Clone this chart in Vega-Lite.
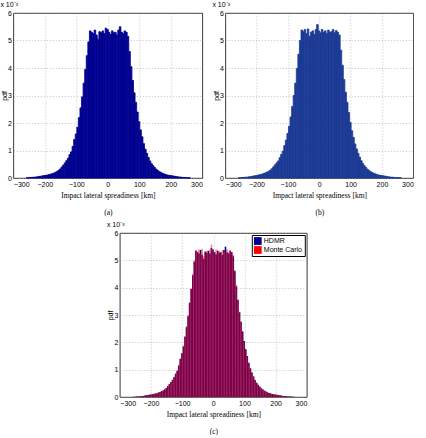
{
  "$schema": "https://vega.github.io/schema/vega-lite/v6.json",
  "padding": 0,
  "background": "white",
  "config": {
    "view": {"stroke": "#000000", "strokeWidth": 0.8},
    "axis": {
      "labelFont": "Liberation Sans", "labelFontSize": 7, "labelColor": "#000000",
      "titleFont": "Liberation Serif", "titleFontSize": 7.5, "titleFontWeight": "normal", "titleColor": "#000000",
      "ticks": false, "domain": false, "labelPadding": 2,
      "grid": true, "gridColor": "#9a9a9a", "gridDash": [1, 2], "gridWidth": 0.6, "gridOpacity": 1
    },
    "axisY": {"titleFont": "Liberation Sans", "titleFontSize": 7, "titlePadding": 0},
    "axisX": {"titlePadding": 4, "titleLineHeight": 17},
    "title": {"font": "Liberation Sans", "fontSize": 7, "fontWeight": "normal", "anchor": "start", "offset": 1, "color": "#000000"}
  },
  "datasets": {
    "d": [
      {"km": -260, "series": "HDMR", "pdf": 0.01}, {"km": -255, "series": "HDMR", "pdf": 0.01}, {"km": -250, "series": "HDMR", "pdf": 0.02}, {"km": -245, "series": "HDMR", "pdf": 0.02},
      {"km": -240, "series": "HDMR", "pdf": 0.03}, {"km": -235, "series": "HDMR", "pdf": 0.03}, {"km": -230, "series": "HDMR", "pdf": 0.04}, {"km": -225, "series": "HDMR", "pdf": 0.05},
      {"km": -220, "series": "HDMR", "pdf": 0.06}, {"km": -215, "series": "HDMR", "pdf": 0.07}, {"km": -210, "series": "HDMR", "pdf": 0.08}, {"km": -205, "series": "HDMR", "pdf": 0.09},
      {"km": -200, "series": "HDMR", "pdf": 0.10}, {"km": -195, "series": "HDMR", "pdf": 0.11}, {"km": -190, "series": "HDMR", "pdf": 0.13}, {"km": -185, "series": "HDMR", "pdf": 0.14},
      {"km": -180, "series": "HDMR", "pdf": 0.16}, {"km": -175, "series": "HDMR", "pdf": 0.18}, {"km": -170, "series": "HDMR", "pdf": 0.21}, {"km": -165, "series": "HDMR", "pdf": 0.24},
      {"km": -160, "series": "HDMR", "pdf": 0.28}, {"km": -155, "series": "HDMR", "pdf": 0.33}, {"km": -150, "series": "HDMR", "pdf": 0.40}, {"km": -145, "series": "HDMR", "pdf": 0.47},
      {"km": -140, "series": "HDMR", "pdf": 0.55}, {"km": -135, "series": "HDMR", "pdf": 0.63}, {"km": -130, "series": "HDMR", "pdf": 0.72}, {"km": -125, "series": "HDMR", "pdf": 0.85},
      {"km": -120, "series": "HDMR", "pdf": 0.95}, {"km": -115, "series": "HDMR", "pdf": 1.15}, {"km": -110, "series": "HDMR", "pdf": 1.40}, {"km": -105, "series": "HDMR", "pdf": 1.60},
      {"km": -100, "series": "HDMR", "pdf": 1.85}, {"km": -95, "series": "HDMR", "pdf": 2.20}, {"km": -90, "series": "HDMR", "pdf": 2.55}, {"km": -85, "series": "HDMR", "pdf": 2.95},
      {"km": -80, "series": "HDMR", "pdf": 3.45}, {"km": -75, "series": "HDMR", "pdf": 3.95}, {"km": -70, "series": "HDMR", "pdf": 4.45}, {"km": -65, "series": "HDMR", "pdf": 4.95},
      {"km": -60, "series": "HDMR", "pdf": 5.35}, {"km": -55, "series": "HDMR", "pdf": 5.30}, {"km": -50, "series": "HDMR", "pdf": 5.25}, {"km": -45, "series": "HDMR", "pdf": 5.38},
      {"km": -40, "series": "HDMR", "pdf": 5.20}, {"km": -35, "series": "HDMR", "pdf": 5.05}, {"km": -30, "series": "HDMR", "pdf": 5.32}, {"km": -25, "series": "HDMR", "pdf": 5.28},
      {"km": -20, "series": "HDMR", "pdf": 5.35}, {"km": -15, "series": "HDMR", "pdf": 5.25}, {"km": -10, "series": "HDMR", "pdf": 5.45}, {"km": -5, "series": "HDMR", "pdf": 5.40},
      {"km": 0, "series": "HDMR", "pdf": 5.30}, {"km": 5, "series": "HDMR", "pdf": 5.22}, {"km": 10, "series": "HDMR", "pdf": 5.35}, {"km": 15, "series": "HDMR", "pdf": 5.28},
      {"km": 20, "series": "HDMR", "pdf": 5.30}, {"km": 25, "series": "HDMR", "pdf": 5.20}, {"km": 30, "series": "HDMR", "pdf": 5.38}, {"km": 35, "series": "HDMR", "pdf": 5.50},
      {"km": 40, "series": "HDMR", "pdf": 5.30}, {"km": 45, "series": "HDMR", "pdf": 5.25}, {"km": 50, "series": "HDMR", "pdf": 5.35}, {"km": 55, "series": "HDMR", "pdf": 5.30},
      {"km": 60, "series": "HDMR", "pdf": 5.15}, {"km": 65, "series": "HDMR", "pdf": 4.60}, {"km": 70, "series": "HDMR", "pdf": 4.05}, {"km": 75, "series": "HDMR", "pdf": 3.55},
      {"km": 80, "series": "HDMR", "pdf": 3.10}, {"km": 85, "series": "HDMR", "pdf": 2.75}, {"km": 90, "series": "HDMR", "pdf": 2.40}, {"km": 95, "series": "HDMR", "pdf": 2.05},
      {"km": 100, "series": "HDMR", "pdf": 1.75}, {"km": 105, "series": "HDMR", "pdf": 1.50}, {"km": 110, "series": "HDMR", "pdf": 1.25}, {"km": 115, "series": "HDMR", "pdf": 1.05},
      {"km": 120, "series": "HDMR", "pdf": 0.90}, {"km": 125, "series": "HDMR", "pdf": 0.75}, {"km": 130, "series": "HDMR", "pdf": 0.62}, {"km": 135, "series": "HDMR", "pdf": 0.52},
      {"km": 140, "series": "HDMR", "pdf": 0.45}, {"km": 145, "series": "HDMR", "pdf": 0.38}, {"km": 150, "series": "HDMR", "pdf": 0.32}, {"km": 155, "series": "HDMR", "pdf": 0.27},
      {"km": 160, "series": "HDMR", "pdf": 0.23}, {"km": 165, "series": "HDMR", "pdf": 0.20}, {"km": 170, "series": "HDMR", "pdf": 0.17}, {"km": 175, "series": "HDMR", "pdf": 0.15},
      {"km": 180, "series": "HDMR", "pdf": 0.13}, {"km": 185, "series": "HDMR", "pdf": 0.11}, {"km": 190, "series": "HDMR", "pdf": 0.10}, {"km": 195, "series": "HDMR", "pdf": 0.09},
      {"km": 200, "series": "HDMR", "pdf": 0.08}, {"km": 205, "series": "HDMR", "pdf": 0.07}, {"km": 210, "series": "HDMR", "pdf": 0.06}, {"km": 215, "series": "HDMR", "pdf": 0.05},
      {"km": 220, "series": "HDMR", "pdf": 0.04}, {"km": 225, "series": "HDMR", "pdf": 0.035}, {"km": 230, "series": "HDMR", "pdf": 0.03}, {"km": 235, "series": "HDMR", "pdf": 0.02},
      {"km": 240, "series": "HDMR", "pdf": 0.02}, {"km": 245, "series": "HDMR", "pdf": 0.015}, {"km": 250, "series": "HDMR", "pdf": 0.01}, {"km": 255, "series": "HDMR", "pdf": 0.01},

      {"km": -260, "series": "Monte Carlo", "pdf": 0.01}, {"km": -255, "series": "Monte Carlo", "pdf": 0.01}, {"km": -250, "series": "Monte Carlo", "pdf": 0.02}, {"km": -245, "series": "Monte Carlo", "pdf": 0.02},
      {"km": -240, "series": "Monte Carlo", "pdf": 0.03}, {"km": -235, "series": "Monte Carlo", "pdf": 0.03}, {"km": -230, "series": "Monte Carlo", "pdf": 0.04}, {"km": -225, "series": "Monte Carlo", "pdf": 0.05},
      {"km": -220, "series": "Monte Carlo", "pdf": 0.06}, {"km": -215, "series": "Monte Carlo", "pdf": 0.07}, {"km": -210, "series": "Monte Carlo", "pdf": 0.08}, {"km": -205, "series": "Monte Carlo", "pdf": 0.09},
      {"km": -200, "series": "Monte Carlo", "pdf": 0.10}, {"km": -195, "series": "Monte Carlo", "pdf": 0.12}, {"km": -190, "series": "Monte Carlo", "pdf": 0.13}, {"km": -185, "series": "Monte Carlo", "pdf": 0.15},
      {"km": -180, "series": "Monte Carlo", "pdf": 0.17}, {"km": -175, "series": "Monte Carlo", "pdf": 0.19}, {"km": -170, "series": "Monte Carlo", "pdf": 0.22}, {"km": -165, "series": "Monte Carlo", "pdf": 0.25},
      {"km": -160, "series": "Monte Carlo", "pdf": 0.29}, {"km": -155, "series": "Monte Carlo", "pdf": 0.34}, {"km": -150, "series": "Monte Carlo", "pdf": 0.41}, {"km": -145, "series": "Monte Carlo", "pdf": 0.48},
      {"km": -140, "series": "Monte Carlo", "pdf": 0.55}, {"km": -135, "series": "Monte Carlo", "pdf": 0.62}, {"km": -130, "series": "Monte Carlo", "pdf": 0.74}, {"km": -125, "series": "Monte Carlo", "pdf": 0.86},
      {"km": -120, "series": "Monte Carlo", "pdf": 0.98}, {"km": -115, "series": "Monte Carlo", "pdf": 1.18}, {"km": -110, "series": "Monte Carlo", "pdf": 1.38}, {"km": -105, "series": "Monte Carlo", "pdf": 1.62},
      {"km": -100, "series": "Monte Carlo", "pdf": 1.88}, {"km": -95, "series": "Monte Carlo", "pdf": 2.22}, {"km": -90, "series": "Monte Carlo", "pdf": 2.60}, {"km": -85, "series": "Monte Carlo", "pdf": 3.00},
      {"km": -80, "series": "Monte Carlo", "pdf": 3.45}, {"km": -75, "series": "Monte Carlo", "pdf": 3.98}, {"km": -70, "series": "Monte Carlo", "pdf": 4.50}, {"km": -65, "series": "Monte Carlo", "pdf": 5.00},
      {"km": -60, "series": "Monte Carlo", "pdf": 5.38}, {"km": -55, "series": "Monte Carlo", "pdf": 5.32}, {"km": -50, "series": "Monte Carlo", "pdf": 5.40}, {"km": -45, "series": "Monte Carlo", "pdf": 5.25},
      {"km": -40, "series": "Monte Carlo", "pdf": 5.42}, {"km": -35, "series": "Monte Carlo", "pdf": 5.15}, {"km": -30, "series": "Monte Carlo", "pdf": 5.30}, {"km": -25, "series": "Monte Carlo", "pdf": 5.35},
      {"km": -20, "series": "Monte Carlo", "pdf": 5.22}, {"km": -15, "series": "Monte Carlo", "pdf": 5.40}, {"km": -10, "series": "Monte Carlo", "pdf": 5.58}, {"km": -5, "series": "Monte Carlo", "pdf": 5.35},
      {"km": 0, "series": "Monte Carlo", "pdf": 5.28}, {"km": 5, "series": "Monte Carlo", "pdf": 5.40}, {"km": 10, "series": "Monte Carlo", "pdf": 5.30}, {"km": 15, "series": "Monte Carlo", "pdf": 5.35},
      {"km": 20, "series": "Monte Carlo", "pdf": 5.25}, {"km": 25, "series": "Monte Carlo", "pdf": 5.38}, {"km": 30, "series": "Monte Carlo", "pdf": 5.30}, {"km": 35, "series": "Monte Carlo", "pdf": 5.32},
      {"km": 40, "series": "Monte Carlo", "pdf": 5.40}, {"km": 45, "series": "Monte Carlo", "pdf": 5.28}, {"km": 50, "series": "Monte Carlo", "pdf": 5.36}, {"km": 55, "series": "Monte Carlo", "pdf": 5.30},
      {"km": 60, "series": "Monte Carlo", "pdf": 5.20}, {"km": 65, "series": "Monte Carlo", "pdf": 4.65}, {"km": 70, "series": "Monte Carlo", "pdf": 4.10}, {"km": 75, "series": "Monte Carlo", "pdf": 3.58},
      {"km": 80, "series": "Monte Carlo", "pdf": 3.12}, {"km": 85, "series": "Monte Carlo", "pdf": 2.75}, {"km": 90, "series": "Monte Carlo", "pdf": 2.38}, {"km": 95, "series": "Monte Carlo", "pdf": 2.02},
      {"km": 100, "series": "Monte Carlo", "pdf": 1.72}, {"km": 105, "series": "Monte Carlo", "pdf": 1.48}, {"km": 110, "series": "Monte Carlo", "pdf": 1.24}, {"km": 115, "series": "Monte Carlo", "pdf": 1.06},
      {"km": 120, "series": "Monte Carlo", "pdf": 0.90}, {"km": 125, "series": "Monte Carlo", "pdf": 0.76}, {"km": 130, "series": "Monte Carlo", "pdf": 0.63}, {"km": 135, "series": "Monte Carlo", "pdf": 0.53},
      {"km": 140, "series": "Monte Carlo", "pdf": 0.45}, {"km": 145, "series": "Monte Carlo", "pdf": 0.38}, {"km": 150, "series": "Monte Carlo", "pdf": 0.32}, {"km": 155, "series": "Monte Carlo", "pdf": 0.27},
      {"km": 160, "series": "Monte Carlo", "pdf": 0.23}, {"km": 165, "series": "Monte Carlo", "pdf": 0.20}, {"km": 170, "series": "Monte Carlo", "pdf": 0.17}, {"km": 175, "series": "Monte Carlo", "pdf": 0.15},
      {"km": 180, "series": "Monte Carlo", "pdf": 0.13}, {"km": 185, "series": "Monte Carlo", "pdf": 0.11}, {"km": 190, "series": "Monte Carlo", "pdf": 0.10}, {"km": 195, "series": "Monte Carlo", "pdf": 0.09},
      {"km": 200, "series": "Monte Carlo", "pdf": 0.08}, {"km": 205, "series": "Monte Carlo", "pdf": 0.07}, {"km": 210, "series": "Monte Carlo", "pdf": 0.06}, {"km": 215, "series": "Monte Carlo", "pdf": 0.05},
      {"km": 220, "series": "Monte Carlo", "pdf": 0.04}, {"km": 225, "series": "Monte Carlo", "pdf": 0.03}, {"km": 230, "series": "Monte Carlo", "pdf": 0.03}, {"km": 235, "series": "Monte Carlo", "pdf": 0.02},
      {"km": 240, "series": "Monte Carlo", "pdf": 0.02}, {"km": 245, "series": "Monte Carlo", "pdf": 0.015}, {"km": 250, "series": "Monte Carlo", "pdf": 0.01}, {"km": 255, "series": "Monte Carlo", "pdf": 0.01}
    ]
  },
  "center": true,
  "spacing": 4,
  "resolve": {"legend": {"color": "independent"}},
  "vconcat": [
    {
      "spacing": 8,
      "hconcat": [
        {
          "width": 189, "height": 165,
          "title": {"text": "x 10⁻³"},
          "data": {"name": "d"},
          "transform": [{"filter": "datum.series === 'HDMR'"}],
          "mark": {"type": "bar", "color": "#000090", "binSpacing": 0, "stroke": "#000090", "strokeWidth": 0.8},
          "encoding": {
            "x": {"field": "km", "type": "quantitative", "bin": {"binned": true, "step": 5},
                  "scale": {"domain": [-300, 300], "nice": false},
                  "axis": {"values": [-300, -200, -100, 0, 100, 200, 300], "title": ["Impact lateral spreadiness [km]", "(a)"]}},
            "y": {"field": "pdf", "type": "quantitative", "scale": {"domain": [0, 6], "nice": false},
                  "axis": {"values": [0, 1, 2, 3, 4, 5, 6], "title": "pdf"}}
          }
        },
        {
          "width": 188, "height": 165,
          "title": {"text": "x 10⁻³"},
          "data": {"name": "d"},
          "transform": [{"filter": "datum.series === 'Monte Carlo'"}],
          "mark": {"type": "bar", "color": "#1c3a94", "binSpacing": 0, "stroke": "#1c3a94", "strokeWidth": 0.8},
          "encoding": {
            "x": {"field": "km", "type": "quantitative", "bin": {"binned": true, "step": 5},
                  "scale": {"domain": [-300, 300], "nice": false},
                  "axis": {"values": [-300, -200, -100, 0, 100, 200, 300], "title": ["Impact lateral spreadiness [km]", "(b)"]}},
            "y": {"field": "pdf", "type": "quantitative", "scale": {"domain": [0, 6], "nice": false},
                  "axis": {"values": [0, 1, 2, 3, 4, 5, 6], "title": "pdf"}}
          }
        }
      ]
    },
    {
      "width": 187, "height": 164,
      "title": {"text": "x 10⁻³"},
      "data": {"name": "d"},
      "encoding": {
        "x": {"field": "km", "type": "quantitative", "bin": {"binned": true, "step": 5},
              "scale": {"domain": [-300, 300], "nice": false},
              "axis": {"values": [-300, -200, -100, 0, 100, 200, 300], "title": ["Impact lateral spreadiness [km]", "(c)"]}},
        "y": {"field": "pdf", "type": "quantitative", "scale": {"domain": [0, 6], "nice": false},
              "axis": {"values": [0, 1, 2, 3, 4, 5, 6], "title": "pdf"}},
        "color": {"field": "series", "type": "nominal",
                  "scale": {"domain": ["HDMR", "Monte Carlo"], "range": ["#000090", "#ff0000"]},
                  "legend": {"title": null, "orient": "top-right", "offset": 2, "strokeColor": "#000000", "fillColor": "#ffffff",
                             "padding": 2, "symbolType": "square", "symbolSize": 60, "symbolOpacity": 1, "symbolStrokeWidth": 0,
                             "labelFont": "Liberation Sans", "labelFontSize": 7, "labelColor": "#000000", "rowPadding": 1, "labelOffset": 2}}
      },
      "layer": [
        {"transform": [{"filter": "datum.series === 'HDMR'"}], "mark": {"type": "bar", "binSpacing": 0}},
        {"transform": [{"filter": "datum.series === 'Monte Carlo'"}], "mark": {"type": "bar", "binSpacing": 0, "opacity": 0.5}}
      ]
    }
  ]
}
